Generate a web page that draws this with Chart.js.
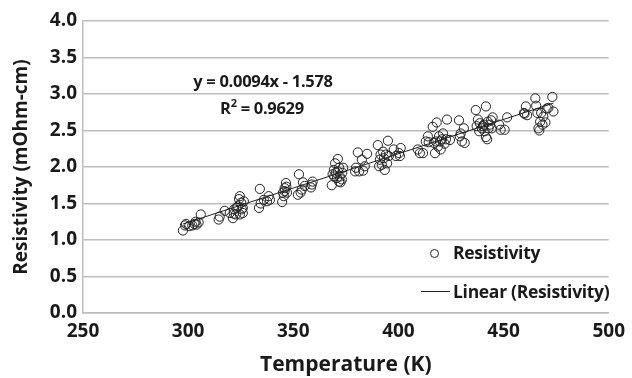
<!DOCTYPE html>
<html>
<head>
<meta charset="utf-8">
<script src="https://cdn.jsdelivr.net/npm/chart.js@4"></script>
<style>
  html, body { margin: 0; padding: 0; background: #fff; }
  #wrap { position: relative; width: 632px; height: 378px; }
  canvas { position: absolute; left: 0; top: 0; }
  .note { position: absolute; font-family: "Open Sans", Lato, sans-serif; font-weight: bold; color: #1a1a1a; white-space: nowrap; letter-spacing: -0.3px; }
  .eq { font-size: 16.5px; transform: translateX(-50%); }
  .leg { font-size: 17.5px; }
  .mark { position: absolute; }
</style>
</head>
<body>
<div id="wrap">
  <canvas id="chart" width="632" height="378"></canvas>
  <div class="note eq" style="left:263px; top:69px;">y = 0.0094x - 1.578</div>
  <div class="note eq" style="left:262px; top:95px;">R<sup style="font-size:11px;">2</sup> = 0.9629</div>
  <div class="mark" style="left:430px; top:249px; width:7px; height:7px; border:1px solid #222; border-radius:50%;"></div>
  <div class="note leg" style="left:453px; top:240px;">Resistivity</div>
  <div class="mark" style="left:421px; top:291px; width:29px; height:1px; background:#222;"></div>
  <div class="note leg" style="left:453px; top:279px;">Linear (Resistivity)</div>
</div>
<script>
// datos
const temperatureK = [
  297.5, 298.5, 299, 300.5, 302, 303, 303.5, 304, 305, 306,
  314.5, 315, 317.4, 319.8, 321.3, 321.9, 322.7, 323.6, 324.2, 324.6, 325.2, 325.5, 326, 326.5, 324.6, 323, 321.7, 326,
  333.7, 334.1, 334.5, 336, 337.5, 338.3, 338.9,
  344.7, 345.1, 345.9, 346.5, 345.5, 346.7, 347, 345.9,
  352.2, 352.7, 353.5, 354, 354.6, 355.4, 358.4, 359.2, 358.8,
  368.3, 368.7, 369.3, 369.9, 370.2, 370.8, 371.2, 371.8, 372.1, 372.5, 373.1, 373.7, 371.2, 369.5, 371.8, 373.3,
  379.4, 379.8, 380.7, 381.3, 382.6, 383.2, 385.1, 384,
  390.2, 390.8, 391.2, 391.5, 392.1, 392.7, 393.1, 393.5, 394, 395, 395.4, 394.6, 397.8, 398.8, 400.3, 401.1, 400.7,
  409.2, 410.2, 411.7, 413, 414.4, 414,
  416.3, 416.9, 417.4, 417.8, 418.2, 418.8, 419.3, 419.7, 420.1, 420.7, 421.2, 422, 423.1, 422.6, 424.5,
  428.8, 429.2, 430.2, 431.1, 431.5, 429.6,
  436.8, 437.2, 437.8, 438.4, 438.7, 439.7, 440.6, 441, 441.6, 442.2, 442.5, 442.9, 443.5, 444.1, 444.8, 441.6, 440.2, 444.4,
  447.9, 448.6, 450.5, 451.7,
  460, 460.6, 461.2, 459.7, 465.1, 465.5, 466.1, 466.6, 467, 467.4, 467.9, 468.5, 468.9, 469.9, 470.5, 471.3, 473.2, 473.7
];
const resistivity = [
  1.13, 1.20, 1.22, 1.19, 1.20, 1.22, 1.25, 1.21, 1.24, 1.35,
  1.28, 1.32, 1.40, 1.37, 1.30, 1.42, 1.35, 1.46, 1.56, 1.60, 1.51, 1.42, 1.44, 1.53, 1.35, 1.44, 1.36, 1.37,
  1.44, 1.70, 1.50, 1.55, 1.53, 1.60, 1.55,
  1.52, 1.65, 1.67, 1.78, 1.60, 1.73, 1.65, 1.71,
  1.62, 1.90, 1.65, 1.69, 1.79, 1.74, 1.72, 1.80, 1.76,
  1.75, 1.90, 1.96, 2.05, 1.92, 1.85, 2.11, 1.99, 1.87, 1.79, 1.83, 1.99, 1.94, 1.87, 1.80, 1.92,
  1.94, 1.99, 2.20, 1.94, 2.10, 1.95, 2.18, 2.01,
  2.30, 2.01, 2.10, 2.17, 2.03, 2.21, 2.12, 1.96, 2.17, 2.36, 2.15, 2.05, 2.24, 2.15, 2.19, 2.26, 2.15,
  2.24, 2.19, 2.19, 2.35, 2.34, 2.42,
  2.55, 2.33, 2.19, 2.35, 2.61, 2.28, 2.42, 2.35, 2.24, 2.38, 2.46, 2.32, 2.65, 2.38, 2.37,
  2.64, 2.42, 2.35, 2.53, 2.33, 2.46,
  2.78, 2.56, 2.65, 2.49, 2.60, 2.53, 2.58, 2.49, 2.83, 2.38, 2.62, 2.53, 2.58, 2.64, 2.68, 2.41, 2.56, 2.53,
  2.58, 2.51, 2.51, 2.68,
  2.73, 2.83, 2.71, 2.74, 2.94, 2.84, 2.74, 2.53, 2.50, 2.62, 2.74, 2.58, 2.69, 2.61, 2.80, 2.81, 2.96, 2.76
];
// línea de tendencia: y = 0.0094x - 1.578
const trendSlope = 0.0094;
const trendIntercept = -1.578;
const xTicks = [250, 300, 350, 400, 450, 500];
const yTicks = [0, 0.5, 1, 1.5, 2, 2.5, 3, 3.5, 4];

const FONT = '"Open Sans", Lato, sans-serif';
const TEXT = '#1a1a1a';
const GRID = '#bdbdbd';

const points = temperatureK.map((t, i) => ({ x: t, y: resistivity[i] }));
const tMin = Math.min(...temperatureK);
const tMax = Math.max(...temperatureK);
const trend = [tMin, tMax].map(t => ({ x: t, y: trendSlope * t + trendIntercept }));

const ctx = document.getElementById('chart').getContext('2d');
new Chart(ctx, {
    type: 'scatter',
    data: {
        datasets: [{
            label: 'Resistivity',
            data: points,
            pointStyle: 'circle',
            pointRadius: 4.6,
            pointBorderWidth: 1,
            pointBorderColor: '#222',
            pointBackgroundColor: 'rgba(0,0,0,0)',
            order: 2
        }, {
            label: 'Linear (Resistivity)',
            type: 'line',
            data: trend,
            borderColor: '#222',
            borderWidth: 1,
            pointRadius: 0,
            fill: false,
            order: 1
        }]
    },
    options: {
        responsive: false,
        animation: false,
        layout: { padding: { top: 21, right: 19, left: 0, bottom: 0 } },
        plugins: {
            legend: { display: false },
            tooltip: { enabled: false }
        },
        scales: {
            x: {
                type: 'linear',
                min: 250,
                max: 500,
                afterBuildTicks: axis => { axis.ticks = xTicks.map(v => ({ value: v })); },
                afterFit: axis => { axis.height = 65; },
                grid: { display: false, drawTicks: false },
                border: { color: GRID, width: 1.5 },
                ticks: {
                    color: TEXT,
                    font: { family: FONT, size: 19, weight: 'bold' },
                    maxRotation: 0,
                    padding: 7
                },
                title: {
                    display: true,
                    text: 'Temperature (K)',
                    color: TEXT,
                    font: { family: FONT, size: 21, weight: 'bold' },
                    padding: { top: 3, bottom: 0 }
                }
            },
            y: {
                min: 0,
                max: 4,
                afterBuildTicks: axis => { axis.ticks = yTicks.map(v => ({ value: v })); },
                afterFit: axis => { axis.width = 83; },
                grid: { color: GRID, lineWidth: 1.5, drawTicks: false },
                border: { color: GRID, width: 1.5 },
                ticks: {
                    color: TEXT,
                    font: { family: FONT, size: 19, weight: 'bold' },
                    padding: 6,
                    callback: v => v.toFixed(1)
                },
                title: {
                    display: true,
                    text: 'Resistivity (mOhm-cm)',
                    color: TEXT,
                    font: { family: FONT, size: 19, weight: 'bold' },
                    padding: { top: 10, bottom: 0 }
                }
            }
        }
    }
});
</script>
</body>
</html>
